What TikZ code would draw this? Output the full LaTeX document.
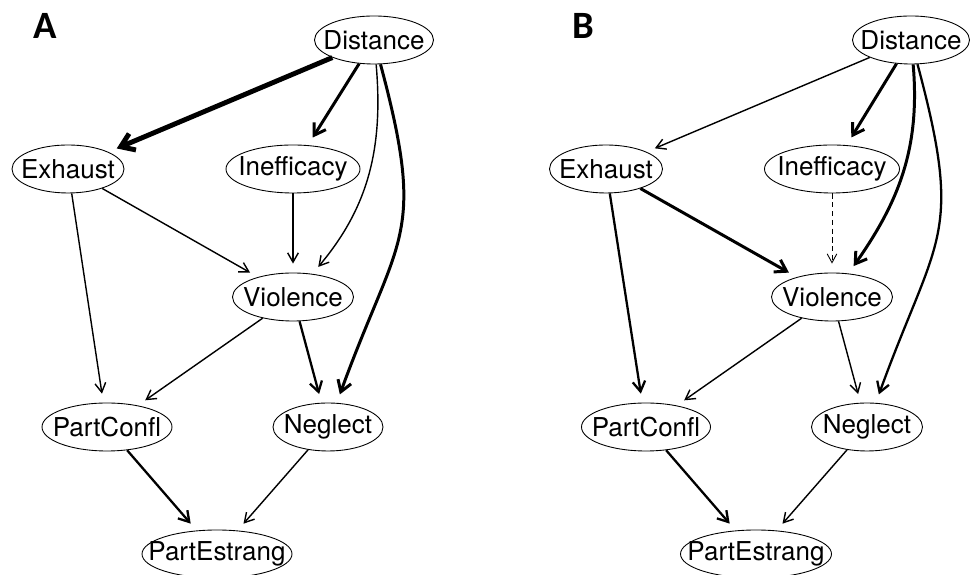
\documentclass[tikz,border=0pt]{standalone}
\usepackage{fontspec}
\setsansfont{TeX Gyre Heros}
\newfontfamily\panelfont{Carlito}
\usepackage{tikz}
\usetikzlibrary{shapes,arrows.meta}
\tikzstyle{dagvar}=[ellipse, draw, line width=0.5pt, inner xsep=-0.8cm, inner ysep=-0.3cm, minimum height=0.96cm, font=\sffamily\fontsize{14.8}{17}\selectfont]
\tikzstyle{panellabel}=[font=\panelfont\bfseries\fontsize{22}{24}\selectfont]
\tikzstyle{edgethin}=[->, line width=0.8pt, shorten >=0.18cm]
\tikzstyle{edgemed}=[->, line width=1.3pt, shorten >=0.18cm]
\tikzstyle{edgethick}=[->, line width=1.7pt, shorten >=0.18cm]
\tikzstyle{edgeheavy}=[->, line width=2.8pt, shorten >=0.18cm]
\tikzstyle{edgedash}=[->, line width=0.5pt, dash pattern=on 3pt off 2pt, shorten >=0.18cm]
\newcommand{\dagvar}[4]{
	\node[dagvar, minimum width=#3] (#1) at (#2) {#4};}

\begin{document}
\begin{tikzpicture}[>={Straight Barb[length=4.5pt 1, width=4.5pt 2]}]
\useasboundingbox (0,0) rectangle (19.4,11.5);
% panel A
\node[panellabel] (labA) at (0.9,10.98) {A};
\dagvar{dist1}{7.48,10.70}{2.38cm}{Distance}
\dagvar{exh1}{1.36,8.12}{2.24cm}{Exhaust}
\dagvar{ineff1}{5.86,8.12}{2.68cm}{Inefficacy}
\dagvar{viol1}{5.86,5.56}{2.42cm}{Violence}
\dagvar{conf1}{2.14,2.96}{2.60cm}{PartConfl}
\dagvar{negl1}{6.56,2.96}{2.20cm}{Neglect}
\dagvar{estr1}{4.34,0.42}{3.00cm}{PartEstrang}
\path (dist1) edge[edgeheavy] (exh1);
\path (dist1) edge[edgethick] (ineff1);
\path (dist1) edge[edgethin, out=-85, in=50] (viol1);
\path (dist1) edge[edgethick, out=-75, in=70, looseness=1.35] (negl1);
\path (exh1) edge[edgethin] (viol1);
\path (exh1) edge[edgethin] (conf1);
\path (ineff1) edge[edgethin] (viol1);
\path (viol1) edge[edgethin] (conf1);
\path (viol1) edge[edgemed] (negl1);
\path (conf1) edge[edgemed] (estr1);
\path (negl1) edge[edgethin] (estr1);
% panel B
\node[panellabel] (labB) at (11.66,10.98) {B};
\dagvar{dist2}{18.22,10.70}{2.34cm}{Distance}
\dagvar{exh2}{12.12,8.12}{2.26cm}{Exhaust}
\dagvar{ineff2}{16.64,8.12}{2.70cm}{Inefficacy}
\dagvar{viol2}{16.64,5.56}{2.42cm}{Violence}
\dagvar{conf2}{12.92,2.96}{2.58cm}{PartConfl}
\dagvar{negl2}{17.34,2.96}{2.22cm}{Neglect}
\dagvar{estr2}{15.12,0.42}{3.02cm}{PartEstrang}
\path (dist2) edge[edgethin] (exh2);
\path (dist2) edge[edgethick] (ineff2);
\path (dist2) edge[edgethick, out=-85, in=55] (viol2);
\path (dist2) edge[edgemed, out=-75, in=70, looseness=1.35] (negl2);
\path (exh2) edge[edgethick] (viol2);
\path (exh2) edge[edgemed] (conf2);
\path (ineff2) edge[edgedash] (viol2);
\path (viol2) edge[edgethin] (conf2);
\path (viol2) edge[edgethin] (negl2);
\path (conf2) edge[edgemed] (estr2);
\path (negl2) edge[edgethin] (estr2);
\end{tikzpicture}
\end{document}
